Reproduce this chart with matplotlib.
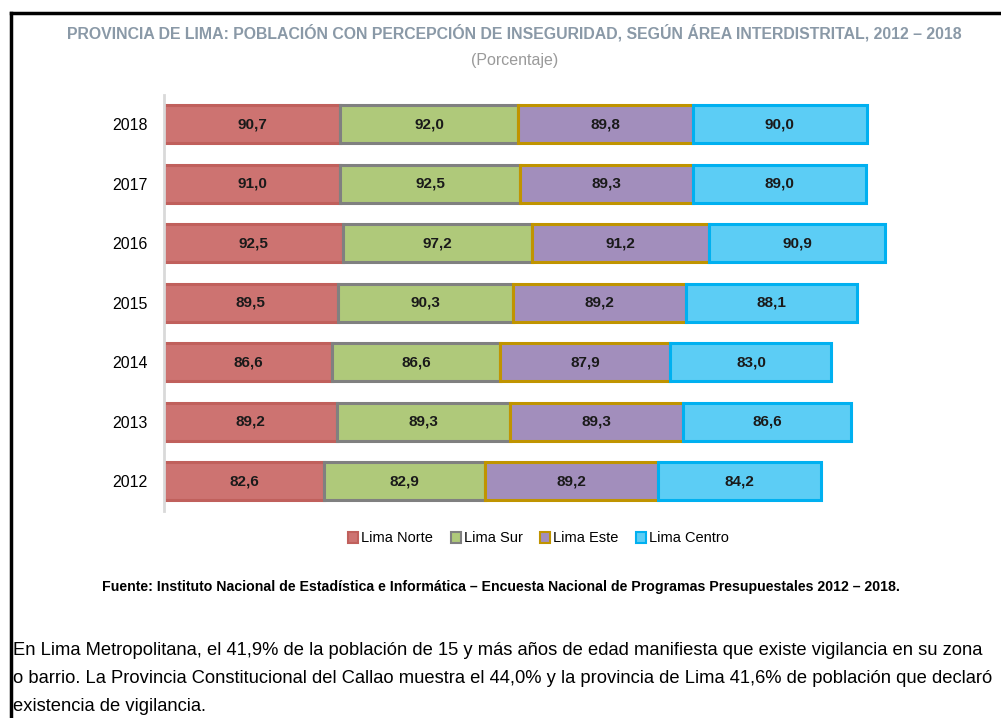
import matplotlib
matplotlib.use('Agg')
import matplotlib.pyplot as plt
import numpy as np
from matplotlib.lines import Line2D
from matplotlib.patches import Patch

# Datos (porcentaje)
anios = ['2012', '2013', '2014', '2015', '2016', '2017', '2018']
lima_norte = [82.6, 89.2, 86.6, 89.5, 92.5, 91.0, 90.7]
lima_sur = [82.9, 89.3, 86.6, 90.3, 97.2, 92.5, 92.0]
lima_este = [89.2, 89.3, 87.9, 89.2, 91.2, 89.3, 89.8]
lima_centro = [84.2, 86.6, 83.0, 88.1, 90.9, 89.0, 90.0]

series = [('Lima Norte', lima_norte, '#CD7371', '#C0605C'),
          ('Lima Sur', lima_sur, '#AFC97A', '#808080'),
          ('Lima Este', lima_este, '#A28EBC', '#C09400'),
          ('Lima Centro', lima_centro, '#5CCDF5', '#00B0F0')]

arial = ['Liberation Sans', 'DejaVu Sans']

fig = plt.figure(figsize=(10.01, 7.18), dpi=100)
ax = fig.add_axes([0.1638, 0.2883, 0.7752, 0.580])

y = np.arange(len(anios))
left = np.zeros(len(anios))
for nombre, vals, color, borde in series:
    vals = np.array(vals)
    ax.barh(y, vals, left=left, height=0.64, color=color, edgecolor=borde,
            linewidth=2.2, label=nombre)
    for yi, l, v in zip(y, left, vals):
        ax.text(l + v / 2, yi, f'{v:.1f}'.replace('.', ','), ha='center', va='center',
                fontsize=11, fontweight='bold', family=arial, color='#1a1a1a')
    left = left + vals

ax.set_xlim(0, 400)
ax.set_ylim(-0.5, 6.5)
ax.set_yticks(y)
ax.set_yticklabels(anios, family=arial, fontsize=11.5)
ax.tick_params(axis='y', length=0, pad=12)
ax.set_xticks([])
for s in ['top', 'right', 'bottom']:
    ax.spines[s].set_visible(False)
ax.spines['left'].set_color('#D9D9D9')
ax.spines['left'].set_linewidth(2)

handles = [Patch(facecolor=c, edgecolor=b, linewidth=1.5, label=n) for n, _, c, b in series]
fig.legend(handles=handles, loc='center', bbox_to_anchor=(0.538, 0.250), ncol=4,
           frameon=False, prop={'family': arial, 'size': 10.5}, handlelength=0.7,
           handleheight=0.7, handletextpad=0.2, columnspacing=1.2)

fig.text(0.514, 0.954, 'PROVINCIA DE LIMA: POBLACIÓN CON PERCEPCIÓN DE INSEGURIDAD, SEGÚN ÁREA INTERDISTRITAL, 2012 – 2018',
         ha='center', va='center', fontsize=11.4, fontweight='bold', color='#8A99A7', family=arial)
fig.text(0.514, 0.916, '(Porcentaje)', ha='center', va='center', fontsize=11.5,
         color='#9A9A9A', family=arial)
fig.text(0.5, 0.183, 'Fuente: Instituto Nacional de Estadística e Informática – Encuesta Nacional de Programas Presupuestales 2012 – 2018.',
         ha='center', va='center', fontsize=10.2, fontweight='bold', family=arial, color='black')

cuerpo = ['En Lima Metropolitana, el 41,9% de la población de 15 y más años de edad manifiesta que existe vigilancia en su zona',
          'o barrio. La Provincia Constitucional del Callao muestra el 44,0% y la provincia de Lima 41,6% de población que declaró',
          'existencia de vigilancia.']
for i, linea in enumerate(cuerpo):
    fig.text(0.013, 0.0935 - i * 0.0385, linea, ha='left', va='center', fontsize=13.2,
             family=arial, color='black')

# marco
fig.add_artist(Line2D([0.011, 1.0], [1 - 13 / 718, 1 - 13 / 718], color='black', linewidth=2.5,
                      transform=fig.transFigure))
fig.add_artist(Line2D([11 / 1001, 11 / 1001], [0, 1 - 13 / 718], color='black', linewidth=2.5,
                      transform=fig.transFigure))

fig.savefig('out.png', dpi=100)
